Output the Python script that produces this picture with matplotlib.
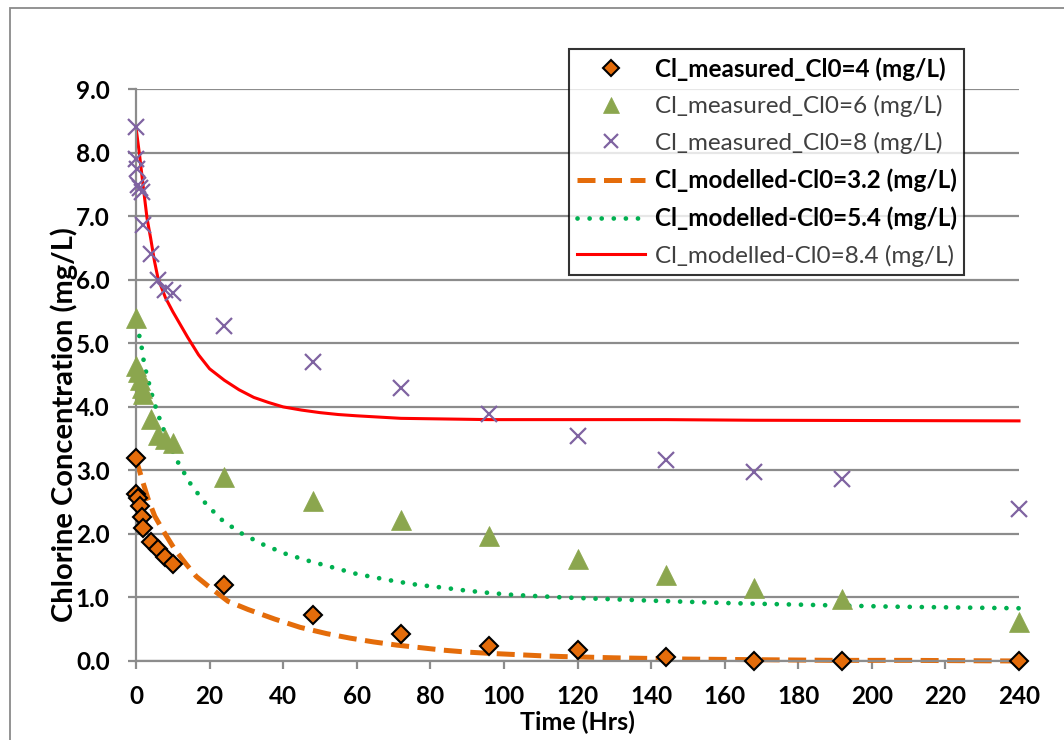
import matplotlib
matplotlib.use('Agg')
import matplotlib.pyplot as plt
from matplotlib.patches import Rectangle
from matplotlib.lines import Line2D

plt.rcParams['font.family'] = ['Lato', 'DejaVu Sans']

# ---------------- data ----------------
t_meas_4 = [0, 0.1, 0.5, 1, 1.5, 2, 4, 6, 8, 10, 24, 48, 72, 96, 120, 144, 168, 192, 240]
cl_meas_4 = [3.2, 2.63, 2.57, 2.44, 2.27, 2.09, 1.88, 1.76, 1.64, 1.52, 1.19, 0.72, 0.43, 0.23,
             0.17, 0.06, 0.0, 0.0, 0.0]

t_meas_6 = [0, 0.1, 0.5, 1, 1.5, 2, 4, 6, 8, 10, 24, 48, 72, 96, 120, 144, 168, 192, 240]
cl_meas_6 = [5.4, 4.65, 4.55, 4.42, 4.3, 4.2, 3.81, 3.55, 3.5, 3.43, 2.9, 2.52, 2.22, 1.97,
             1.6, 1.36, 1.15, 0.97, 0.62]

t_meas_8 = [0, 0.1, 0.25, 0.5, 1, 1.5, 2, 4, 6, 8, 10, 24, 48, 72, 96, 120, 144, 168, 192, 240]
cl_meas_8 = [8.4, 7.9, 7.75, 7.5, 7.44, 7.38, 6.87, 6.4, 6.0, 5.84, 5.79, 5.28, 4.7, 4.3, 3.89,
             3.54, 3.16, 2.97, 2.86, 2.39]

t_mod_32 = [0, 0.5, 1.9, 3.3, 5.1, 7.4, 10.5, 13.7, 16.4, 19.6, 25, 30.5, 37.7, 44.6, 51.9,
            58.2, 64.6, 70.9, 77.3, 83.6, 90, 96.3, 103.6, 110.8, 116, 130, 150, 170, 190,
            210, 240]
cl_mod_32 = [3.2, 3.08, 2.81, 2.55, 2.28, 2.05, 1.76, 1.52, 1.33, 1.18, 0.94, 0.81, 0.66, 0.53,
             0.43, 0.36, 0.30, 0.25, 0.21, 0.17, 0.14, 0.12, 0.10, 0.08, 0.07, 0.05, 0.03,
             0.02, 0.01, 0.01, 0.0]

t_mod_54 = [0, 0.6, 1.4, 1.8, 2.4, 3.4, 4.2, 5.0, 6.0, 7.0, 9.0, 11.0, 14.7, 18.3, 22.9, 28.3,
            34.7, 41.0, 47.3, 53.7, 60.0, 70.0, 76.4, 82.7, 89.5, 96.3, 102.7, 109.5, 116.3,
            140, 162, 190, 206, 240]
cl_mod_54 = [5.3, 5.19, 5.0, 4.82, 4.63, 4.40, 4.22, 4.06, 3.88, 3.72, 3.42, 3.17, 2.80, 2.52,
             2.24, 2.02, 1.83, 1.68, 1.57, 1.47, 1.37, 1.26, 1.20, 1.16, 1.11, 1.07, 1.04,
             1.02, 1.0, 0.95, 0.91, 0.875, 0.855, 0.83]

t_mod_84 = [0, 1, 2, 3, 4, 5, 6, 8, 10, 12, 14, 17, 20, 24, 28, 32, 36, 40, 45, 50, 55, 60,
            72, 96, 144, 168, 240]
cl_mod_84 = [8.4, 7.95, 7.45, 6.97, 6.65, 6.3, 6.02, 5.72, 5.5, 5.3, 5.1, 4.82, 4.6, 4.42,
             4.27, 4.15, 4.07, 4.0, 3.95, 3.91, 3.88, 3.86, 3.82, 3.8, 3.8, 3.79, 3.78]

labels = ['Cl_measured_Cl0=4 (mg/L)', 'Cl_measured_Cl0=6 (mg/L)', 'Cl_measured_Cl0=8 (mg/L)',
          'Cl_modelled-Cl0=3.2 (mg/L)', 'Cl_modelled-Cl0=5.4 (mg/L)', 'Cl_modelled-Cl0=8.4 (mg/L)']
label_bold = [True, False, False, True, True, False]

x_ticks = list(range(0, 241, 20))
y_ticks = [0, 1, 2, 3, 4, 5, 6, 7, 8, 9]

# ---------------- figure ----------------
W, H = 1064, 740
fig = plt.figure(figsize=(W / 100, H / 100), dpi=100)
fig.patch.set_facecolor('white')

# outer chart border (extends beyond the right/bottom edge)
fig.add_artist(Rectangle((10 / W, -0.1), 1.2, 1 - 8 / H + 0.1, transform=fig.transFigure,
                         fill=False, ec='#8A8A8A', lw=1.3))

ax = fig.add_axes([136 / W, 1 - 661 / H, (1019 - 136) / W, (661 - 89.3) / H])
ax.set_xlim(0, 240)
ax.set_ylim(0, 9)

grid_c = '#8C8C8C'
ax.yaxis.grid(True, color=grid_c, lw=1.6)
ax.set_axisbelow(True)
for s in ['top', 'right']:
    ax.spines[s].set_visible(False)
for s in ['left', 'bottom']:
    ax.spines[s].set_color(grid_c)
    ax.spines[s].set_linewidth(1.6)

ax.set_xticks(x_ticks)
ax.set_yticks(y_ticks)
ax.set_yticklabels([f'{v:.1f}' for v in y_ticks])
ax.tick_params(axis='both', direction='out', length=6, width=1.6, color=grid_c,
               labelsize=17.5)
ax.tick_params(axis='y', pad=13)
ax.tick_params(axis='x', pad=11)
for lab in ax.get_xticklabels() + ax.get_yticklabels():
    lab.set_fontweight('bold')

orange = '#E46C0A'
olive = '#8BA64E'
purple = '#7F63A1'
green = '#00B050'
red = '#FF0000'

l4, = ax.plot(t_mod_32, cl_mod_32, color=orange, lw=3.6, dashes=(3.6, 1.7), zorder=2,
              clip_on=False)
l5, = ax.plot(t_mod_54, cl_mod_54, color=green, lw=3.4, dashes=(0.01, 2.55),
              dash_capstyle='round', zorder=2, clip_on=False)
l6, = ax.plot(t_mod_84, cl_mod_84, color=red, lw=2.2, zorder=2, clip_on=False)

l1, = ax.plot(t_meas_4, cl_meas_4, ls='none', marker='D', ms=9, mfc=orange, mec='black',
              mew=1.5, zorder=5, clip_on=False)
l2, = ax.plot(t_meas_6, cl_meas_6, ls='none', marker='^', ms=14, mfc=olive, mec=olive,
              mew=0.5, zorder=4, clip_on=False)
l3, = ax.plot(t_meas_8, cl_meas_8, ls='none', marker='x', ms=12, mec=purple, mew=1.6,
              zorder=4, clip_on=False)

# legend handles
h1 = Line2D([], [], ls='none', marker='D', ms=8, mfc=orange, mec='black', mew=1.5)
h2 = Line2D([], [], ls='none', marker='^', ms=12, mfc=olive, mec=olive, mew=0.5)
h3 = Line2D([], [], ls='none', marker='x', ms=10, mec=purple, mew=1.6)
h4 = Line2D([], [], color=orange, lw=3.6, dashes=(3.6, 1.7))
h5 = Line2D([], [], color=green, lw=3.4, dashes=(0.01, 2.55), dash_capstyle='round')
h6 = Line2D([], [], color=red, lw=2.2)

leg = fig.legend([h1, h2, h3, h4, h5, h6], labels, loc='upper left',
                 bbox_to_anchor=(569 / W, 1 - 280 / H, 395 / W, 231 / H),
                 bbox_transform=fig.transFigure, mode='expand',
                 fontsize=17.5, frameon=True, fancybox=False, borderaxespad=0,
                 borderpad=0.33, labelspacing=0.6, handlelength=2.8, handletextpad=0.4,
                 numpoints=1)
leg.get_frame().set_edgecolor('black')
leg.get_frame().set_linewidth(1.5)
leg.get_frame().set_facecolor('white')
for txt, b in zip(leg.get_texts(), label_bold):
    if b:
        txt.set_fontweight('bold')
        txt.set_color('black')
    else:
        txt.set_color('#404040')

fig.text(577.5 / W, 1 - 722 / H, 'Time (Hrs)', ha='center', va='center', fontsize=18,
         fontweight='bold')
fig.text(64 / W, 1 - 425 / H, 'Chlorine Concentration (mg/L)', ha='center', va='center',
         rotation=90, fontsize=21, fontweight='bold')

fig.savefig('out.png', dpi=100, facecolor='white')
